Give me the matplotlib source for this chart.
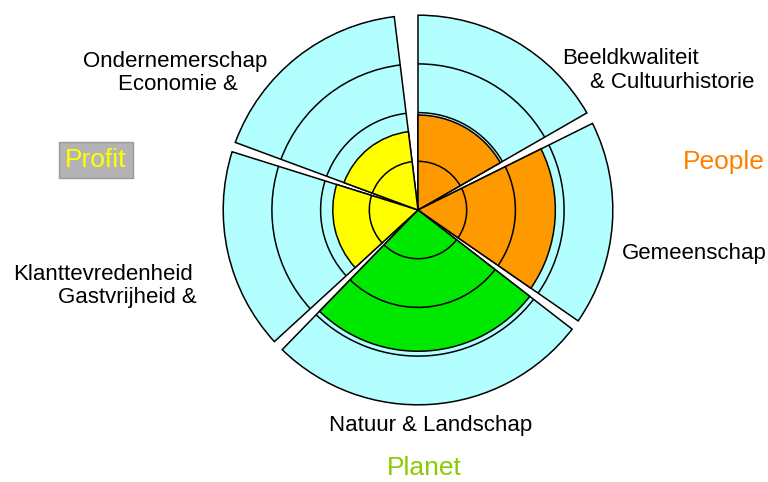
import matplotlib.pyplot as plt
from matplotlib.patches import Wedge, Arc

plt.rcParams['font.family'] = ['Liberation Sans', 'DejaVu Sans']

# sectors of the wheel, angles in degrees (counter-clockwise from east)
sectors = ["Beeldkwaliteit", "Gemeenschap", "Natuur & Landschap", "Gastvrijheid", "Economie"]
start_deg = [29.9, -34.7, -134.2, 162.6, 97.0]
end_deg = [90.0, 26.4, -37.7, 222.5, 159.7]
scores = [1.95, 2.82, 2.9, 1.75, 1.62]
pillar = ["People", "People", "Planet", "Profit", "Profit"]
rings = [1, 2, 3, 4]

fill = {"People": "#ff9900", "Planet": "#00e800", "Profit": "#ffff00"}
back = "#b3ffff"

W, H = 768, 482
px = 48.7  # pixels per ring unit
cx, cy = 418, 210

fig = plt.figure(figsize=(W / 100, H / 100), dpi=100)
ax = fig.add_axes([0, 0, 1, 1])
ax.set_xlim(-cx / px, (W - cx) / px)
ax.set_ylim(-(H - cy) / px, cy / px)
ax.set_aspect('equal')
ax.axis('off')

for t0, t1, s, p in zip(start_deg, end_deg, scores, pillar):
    ax.add_patch(Wedge((0, 0), rings[-1], t0, t1, facecolor=back, edgecolor='black', lw=1.1))
    ax.add_patch(Wedge((0, 0), s, t0, t1, facecolor=fill[p], edgecolor='black', lw=1.1))
    for r in rings[:-1]:
        ax.add_patch(Arc((0, 0), 2 * r, 2 * r, theta1=t0, theta2=t1, color='black', lw=1.1))


def label(x, y, s, **kw):
    fig.text(x / W, 1 - y / H, s, ha='center', va='center', **kw)


fs = 16
label(175, 62, "Ondernemerschap", fontsize=fs)
label(178, 84, "Economie &", fontsize=fs)
label(630, 59, "Beeldkwaliteit", fontsize=fs)
label(672, 82, "& Cultuurhistorie", fontsize=fs)
label(694, 254, "Gemeenschap", fontsize=fs)
label(103, 275, "Klanttevredenheid", fontsize=fs)
label(127, 297, "Gastvrijheid &", fontsize=fs)
label(431, 425, "Natuur & Landschap", fontsize=fs)

label(724, 162, "People", fontsize=19, color="#ff8000")
label(424, 468, "Planet", fontsize=19, color="#88cc00")
label(96, 160, "Profit", fontsize=19, color="#ffff00",
      bbox=dict(boxstyle='square,pad=0.22', facecolor='#b3b3b3', edgecolor='#999999', lw=1))

fig.savefig("out.png", dpi=100)
